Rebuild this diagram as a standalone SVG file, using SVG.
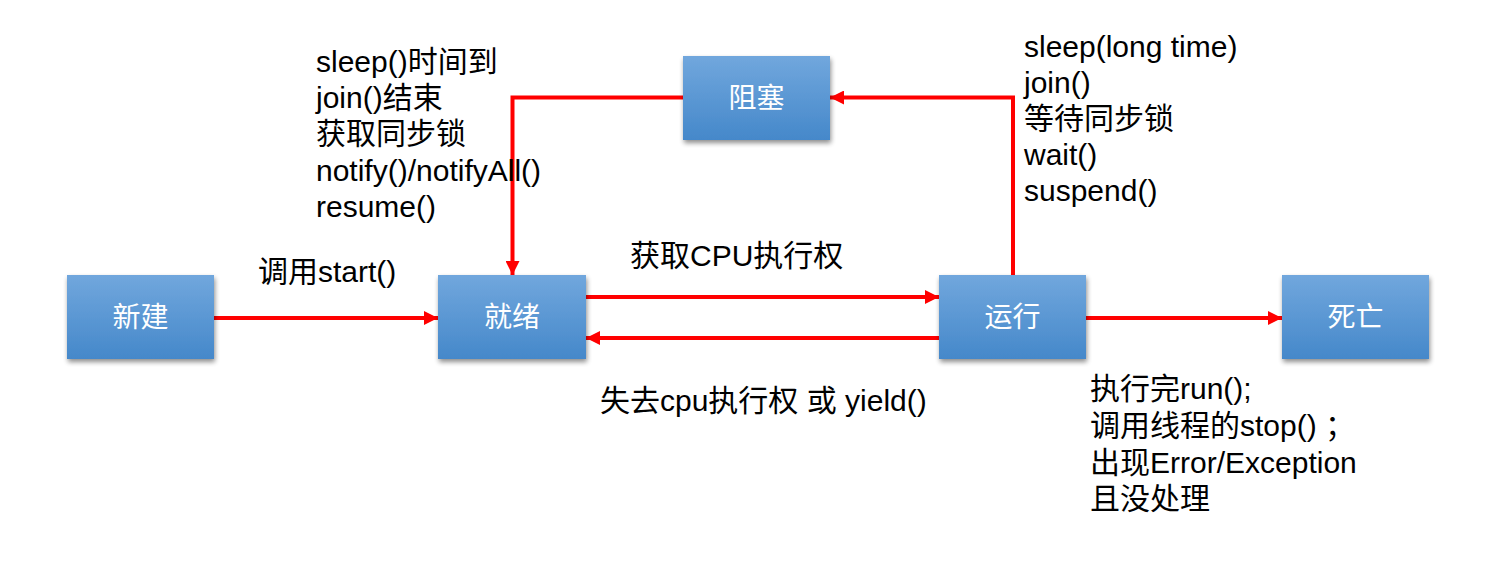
<svg xmlns="http://www.w3.org/2000/svg" width="1493" height="571" viewBox="0 0 1493 571">
<defs>
<linearGradient id="g" x1="0" y1="0" x2="0" y2="1">
<stop offset="0" stop-color="#71a7dd"/>
<stop offset="1" stop-color="#4588ca"/>
</linearGradient>
<filter id="sh" x="-10%" y="-10%" width="125%" height="130%">
<feGaussianBlur in="SourceAlpha" stdDeviation="2.5"/>
<feOffset dx="1" dy="3" result="b"/>
<feComponentTransfer><feFuncA type="linear" slope="0.45"/></feComponentTransfer>
<feMerge><feMergeNode/><feMergeNode in="SourceGraphic"/></feMerge>
</filter>
<marker id="arr" markerUnits="userSpaceOnUse" markerWidth="16" markerHeight="14" refX="14" refY="7" orient="auto">
<path d="M0,0 L14,7 L0,14 Z" fill="#ff0000"/>
</marker>
<style>
.box{fill:url(#g);filter:url(#sh)}
.nl{font-family:"Liberation Sans","Noto Sans CJK SC",sans-serif;font-size:28px;fill:#ffffff;text-anchor:middle}
.t{font-family:"Liberation Sans","Noto Sans CJK SC",sans-serif;font-size:30px;fill:#000000}
.c{fill:none;stroke:#ff0000;stroke-width:4}
</style>
</defs>
<rect width="1493" height="571" fill="#ffffff"/>
<g id="connectors">
<line class="c" x1="214" y1="318" x2="438" y2="318" marker-end="url(#arr)"/>
<line class="c" x1="586" y1="297" x2="939" y2="297" marker-end="url(#arr)"/>
<line class="c" x1="939" y1="338" x2="586" y2="338" marker-end="url(#arr)"/>
<line class="c" x1="1086" y1="318" x2="1282" y2="318" marker-end="url(#arr)"/>
<polyline class="c" points="1013,275 1013,97.5 830,97.5" marker-end="url(#arr)"/>
<polyline class="c" points="683,97.5 512.5,97.5 512.5,275" marker-end="url(#arr)"/>
</g>
<g id="node-new"><rect class="box" x="67" y="275" width="147" height="84"/><text class="nl" x="140.5" y="327">新建</text></g>
<g id="node-ready"><rect class="box" x="438" y="275" width="148" height="84"/><text class="nl" x="512" y="327">就绪</text></g>
<g id="node-running"><rect class="box" x="939" y="275" width="147" height="84"/><text class="nl" x="1012.5" y="327">运行</text></g>
<g id="node-dead"><rect class="box" x="1282" y="275" width="147" height="84"/><text class="nl" x="1355.5" y="327">死亡</text></g>
<g id="node-blocked"><rect class="box" x="683" y="56" width="147" height="84"/><text class="nl" x="756.5" y="108">阻塞</text></g>
<g id="labels">
<text class="t" x="258" y="282">调用start()</text>
<text class="t" x="630" y="266">获取CPU执行权</text>
<text class="t" x="600" y="411">失去cpu执行权 或 yield()</text>
<text class="t" x="316"><tspan x="316" y="72">sleep()时间到</tspan><tspan x="316" y="108">join()结束</tspan><tspan x="316" y="144">获取同步锁</tspan><tspan x="316" y="181">notify()/notifyAll()</tspan><tspan x="316" y="217">resume()</tspan></text>
<text class="t"><tspan x="1024" y="57">sleep(long time)</tspan><tspan x="1024" y="93">join()</tspan><tspan x="1024" y="129">等待同步锁</tspan><tspan x="1024" y="165">wait()</tspan><tspan x="1024" y="201">suspend()</tspan></text>
<text class="t"><tspan x="1090" y="399">执行完run();</tspan><tspan x="1090" y="436">调用线程的stop() ；</tspan><tspan x="1090" y="473">出现Error/Exception</tspan><tspan x="1090" y="509">且没处理</tspan></text>
</g>
</svg>
